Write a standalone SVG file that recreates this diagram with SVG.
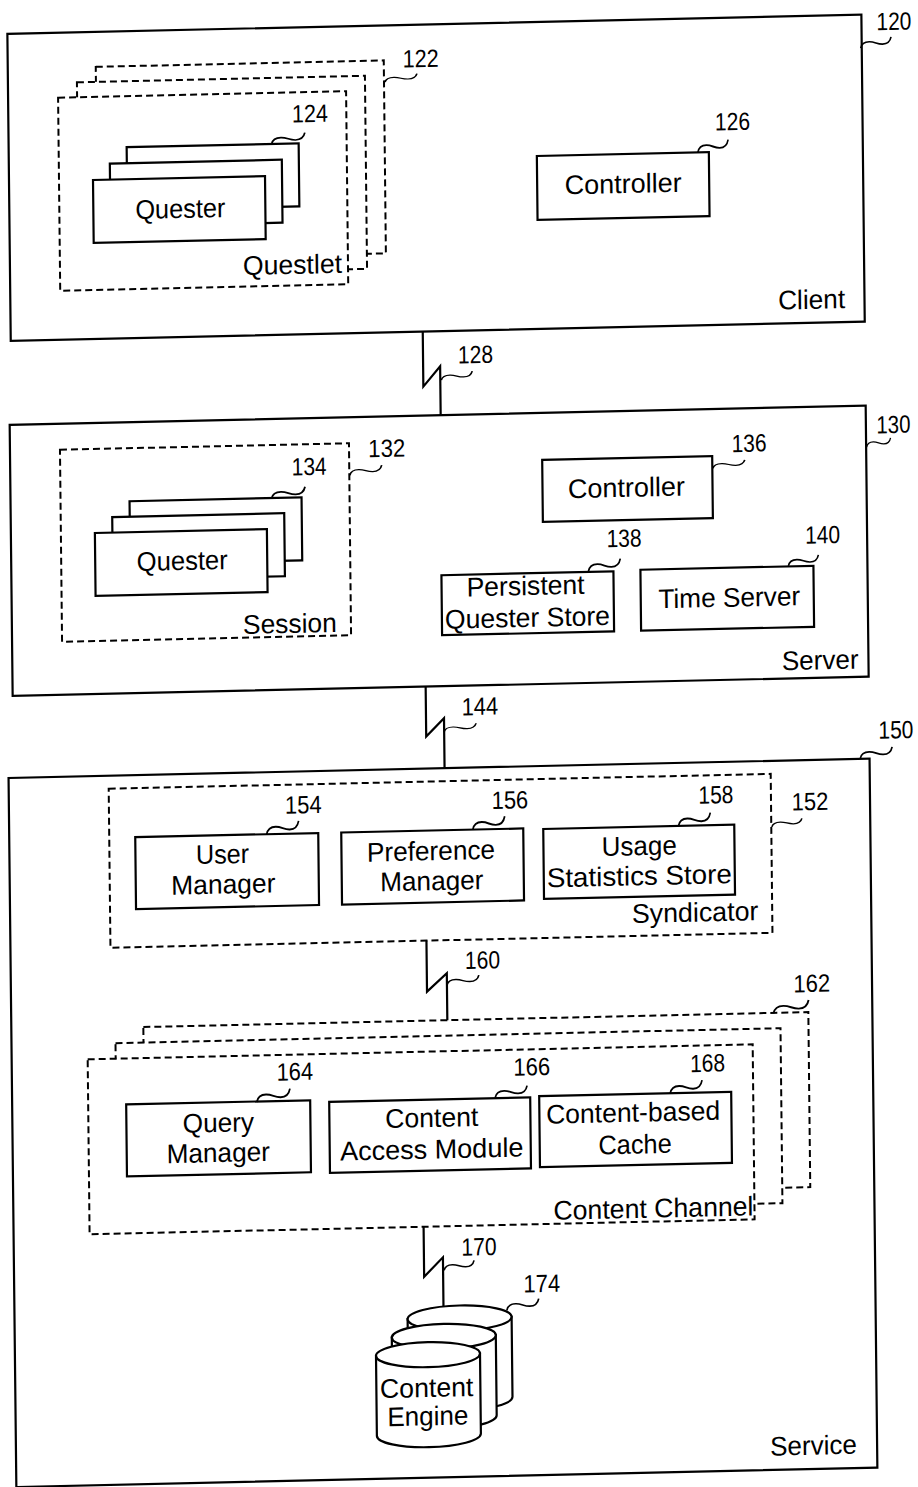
<svg xmlns="http://www.w3.org/2000/svg" width="918" height="1487" viewBox="0 0 918 1487">
<style>
.frame{fill:none;stroke:#000;stroke-width:2.2}
.box{fill:#fff;stroke:#000;stroke-width:2.2}
.dash{fill:#fff;stroke:#000;stroke-width:2;stroke-dasharray:7 4}
.cyl{fill:#fff;stroke:#000;stroke-width:2.2}
.ln{fill:none;stroke:#000;stroke-width:2.2}
.t{font-family:"Liberation Sans",Arial,sans-serif;font-size:27px;fill:#000}
.n{font-family:"Liberation Sans",Arial,sans-serif;font-size:25px;fill:#000;text-anchor:middle}
.c{text-anchor:middle}
.e{text-anchor:end}
</style>
<defs>
<path id="sq" d="M0,0 c0.96,-4.62 4,-6.38 8.96,-6.38 c6.08,0 8,2.75 14.08,2.75 c5.12,0 8,-2.75 8.96,-7.37" fill="none" stroke="#000" stroke-width="1.7"/>
</defs>
<rect x="0" y="0" width="918" height="1487" fill="#fff"/>
<g transform="matrix(1 -0.0225 0.011 1 0 0)">

<g id="client">
<rect class="frame" x="7" y="34" width="854" height="307"/>
<text class="t e" x="841.6" y="327" textLength="67" lengthAdjust="spacingAndGlyphs">Client</text>
<text class="n" x="893.5" y="50" textLength="35" lengthAdjust="spacingAndGlyphs">120</text>
<use href="#sq" transform="translate(860,67.4) scale(0.95,0.95)"/>
</g>

<g id="questlet">
<rect class="dash" x="95" y="69" width="288" height="193"/>
<rect class="dash" x="76" y="84" width="288" height="193"/>
<rect class="dash" x="57" y="99" width="288" height="193"/>
<text class="t" x="240" y="280.5" textLength="99" lengthAdjust="spacingAndGlyphs">Questlet</text>
<text class="n" x="420" y="76.5" textLength="36" lengthAdjust="spacingAndGlyphs">122</text>
<use href="#sq" transform="translate(384,90.7) scale(1,0.7)"/>
</g>

<g id="quester-client">
<rect class="box" x="125" y="150" width="172" height="63"/>
<rect class="box" x="108" y="166" width="172" height="63"/>
<rect class="box" x="91" y="182" width="172" height="63"/>
<text class="t c" x="178" y="222" textLength="90" lengthAdjust="spacingAndGlyphs">Quester</text>
<text class="n" x="308.7" y="129" textLength="36" lengthAdjust="spacingAndGlyphs">124</text>
<use href="#sq" transform="translate(270,150) scale(1.04,0.95)"/>
</g>

<g id="controller-client">
<rect class="box" x="535" y="168" width="172" height="64"/>
<text class="t c" x="621" y="207" textLength="117" lengthAdjust="spacingAndGlyphs">Controller</text>
<text class="n" x="731" y="146.5" textLength="35" lengthAdjust="spacingAndGlyphs">126</text>
<use href="#sq" transform="translate(696,168) scale(0.95,1.1)"/>
</g>

<g id="server">
<rect class="frame" x="5" y="425" width="856" height="271"/>
<text class="t e" x="851" y="687.6" textLength="76.6" lengthAdjust="spacingAndGlyphs">Server</text>
<text class="n" x="888.5" y="453" textLength="34" lengthAdjust="spacingAndGlyphs">130</text>
<use href="#sq" transform="translate(861.5,466.5) scale(0.75,0.8)"/>
</g>

<g id="session">
<rect class="dash" x="55" y="451" width="289" height="192"/>
<text class="t e" x="329.8" y="639.3" textLength="93.7" lengthAdjust="spacingAndGlyphs">Session</text>
<text class="n" x="381.7" y="465.4" textLength="37" lengthAdjust="spacingAndGlyphs">132</text>
<use href="#sq" transform="translate(344.5,483) scale(1,0.85)"/>
</g>

<g id="quester-server">
<rect class="box" x="124" y="504" width="172" height="63"/>
<rect class="box" x="106.5" y="519.5" width="172" height="63"/>
<rect class="box" x="89" y="535" width="172" height="63"/>
<text class="t c" x="176" y="574" textLength="91" lengthAdjust="spacingAndGlyphs">Quester</text>
<text class="n" x="304" y="482" textLength="35" lengthAdjust="spacingAndGlyphs">134</text>
<use href="#sq" transform="translate(266,504.5) scale(1.05,1)"/>
</g>

<g id="controller-server">
<rect class="box" x="537" y="472" width="170" height="62"/>
<text class="t c" x="621" y="510.8" textLength="117" lengthAdjust="spacingAndGlyphs">Controller</text>
<text class="n" x="744" y="468.5" textLength="35" lengthAdjust="spacingAndGlyphs">136</text>
<use href="#sq" transform="translate(707.5,484.3) scale(1,0.7)"/>
</g>

<g id="persistent-store">
<rect class="box" x="435" y="585" width="172" height="60"/>
<text class="t c" x="519" y="606.8" textLength="118" lengthAdjust="spacingAndGlyphs">Persistent</text>
<text class="t c" x="520.6" y="638.6" textLength="165" lengthAdjust="spacingAndGlyphs">Quester Store</text>
<text class="n" x="618" y="560.7" textLength="35" lengthAdjust="spacingAndGlyphs">138</text>
<use href="#sq" transform="translate(582,584.5) scale(1,1.1)"/>
</g>

<g id="time-server">
<rect class="box" x="634" y="584" width="173" height="61"/>
<text class="t c" x="722.5" y="623" textLength="141.7" lengthAdjust="spacingAndGlyphs">Time Server</text>
<text class="n" x="816.5" y="561.8" textLength="35" lengthAdjust="spacingAndGlyphs">140</text>
<use href="#sq" transform="translate(782,583.5) scale(0.94,0.95)"/>
</g>

<g id="service">
<rect class="frame" x="0" y="778" width="861" height="709"/>
<text class="t e" x="840.7" y="1472.6" textLength="86.7" lengthAdjust="spacingAndGlyphs">Service</text>
<text class="n" x="887.7" y="758.4" textLength="35" lengthAdjust="spacingAndGlyphs">150</text>
<use href="#sq" transform="translate(851.7,777.7) scale(1,1)"/>
</g>

<g id="syndicator">
<rect class="dash" x="100" y="791" width="662" height="159"/>
<text class="t e" x="748.2" y="937" textLength="126.6" lengthAdjust="spacingAndGlyphs">Syndicator</text>
<text class="n" x="801" y="828.2" textLength="36.6" lengthAdjust="spacingAndGlyphs">152</text>
<use href="#sq" transform="translate(762.6,844) scale(0.94,0.71)"/>
</g>

<g id="user-manager">
<rect class="box" x="126" y="840" width="183" height="72"/>
<text class="t c" x="213" y="868.3" textLength="53.3" lengthAdjust="spacingAndGlyphs">User</text>
<text class="t c" x="213.5" y="898.3" textLength="104.3" lengthAdjust="spacingAndGlyphs">Manager</text>
<text class="n" x="294.4" y="820" textLength="36.7" lengthAdjust="spacingAndGlyphs">154</text>
<use href="#sq" transform="translate(257.5,840) scale(1,1.15)"/>
</g>

<g id="preference-manager">
<rect class="box" x="332" y="840" width="182" height="72"/>
<text class="t c" x="421.5" y="869.7" textLength="128.3" lengthAdjust="spacingAndGlyphs">Preference</text>
<text class="t c" x="422" y="899.7" textLength="103.3" lengthAdjust="spacingAndGlyphs">Manager</text>
<text class="n" x="501" y="819.8" textLength="36.6" lengthAdjust="spacingAndGlyphs">156</text>
<use href="#sq" transform="translate(463.6,840) scale(1,1.15)"/>
</g>

<g id="usage-statistics-store">
<rect class="box" x="534" y="841" width="191" height="70"/>
<text class="t c" x="629.8" y="869.4" textLength="75" lengthAdjust="spacingAndGlyphs">Usage</text>
<text class="t c" x="629.5" y="899.4" textLength="185" lengthAdjust="spacingAndGlyphs">Statistics Store</text>
<text class="n" x="707" y="819.3" textLength="35" lengthAdjust="spacingAndGlyphs">158</text>
<use href="#sq" transform="translate(669.2,841) scale(1,1.15)"/>
</g>

<g id="content-channel">
<rect class="dash" x="132" y="1030" width="665" height="175"/>
<rect class="dash" x="104" y="1045.5" width="665" height="175"/>
<rect class="dash" x="76" y="1061" width="665" height="175"/>
<text class="t e" x="740" y="1232" textLength="200" lengthAdjust="spacingAndGlyphs">Content Channel</text>
<text class="n" x="800.8" y="1010" textLength="36.7" lengthAdjust="spacingAndGlyphs">162</text>
<use href="#sq" transform="translate(762.2,1030.5) scale(1.1,1.14)"/>
</g>

<g id="query-manager">
<rect class="box" x="114" y="1107" width="184" height="72"/>
<text class="t c" x="206" y="1136.6" textLength="71.3" lengthAdjust="spacingAndGlyphs">Query</text>
<text class="t c" x="205.5" y="1166.6" textLength="103.3" lengthAdjust="spacingAndGlyphs">Manager</text>
<text class="n" x="283" y="1086.6" textLength="36.6" lengthAdjust="spacingAndGlyphs">164</text>
<use href="#sq" transform="translate(244.6,1107.5) scale(1.04,1.15)"/>
</g>

<g id="content-access-module">
<rect class="box" x="317" y="1109" width="201" height="71"/>
<text class="t c" x="419.3" y="1136.4" textLength="93.3" lengthAdjust="spacingAndGlyphs">Content</text>
<text class="t c" x="419" y="1168" textLength="183.3" lengthAdjust="spacingAndGlyphs">Access Module</text>
<text class="n" x="519.9" y="1087" textLength="36.7" lengthAdjust="spacingAndGlyphs">166</text>
<use href="#sq" transform="translate(483,1108.5) scale(1,1.03)"/>
</g>

<g id="content-based-cache">
<rect class="box" x="527" y="1108" width="192" height="71"/>
<text class="t c" x="620.7" y="1135.7" textLength="174" lengthAdjust="spacingAndGlyphs">Content-based</text>
<text class="t c" x="622.3" y="1167.6" textLength="73.4" lengthAdjust="spacingAndGlyphs">Cache</text>
<text class="n" x="695.7" y="1087.4" textLength="35" lengthAdjust="spacingAndGlyphs">168</text>
<use href="#sq" transform="translate(658,1108.3) scale(1,1.15)"/>
</g>

<g id="content-engine">
<path class="cyl" d="M393,1328 V1408 A52,12.5 0 0 0 497,1408 V1328 Z"/>
<ellipse class="cyl" cx="445" cy="1328" rx="52" ry="12.5"/>
<path class="cyl" d="M377,1346 V1426 A52,12.5 0 0 0 481,1426 V1346 Z"/>
<ellipse class="cyl" cx="429" cy="1346" rx="52" ry="12.5"/>
<path class="cyl" d="M361,1364 V1444 A52,12.5 0 0 0 465,1444 V1364 Z"/>
<ellipse class="cyl" cx="413" cy="1364" rx="52" ry="12.5"/>
<text class="t c" x="411.3" y="1406.3" textLength="93.3" lengthAdjust="spacingAndGlyphs">Content</text>
<text class="t c" x="412.1" y="1434.6" textLength="81" lengthAdjust="spacingAndGlyphs">Engine</text>
<text class="n" x="527.5" y="1303.9" textLength="36.7" lengthAdjust="spacingAndGlyphs">174</text>
<use href="#sq" transform="translate(492.3,1321.4) scale(1,1)"/>
</g>

<g id="connectors">
<path class="ln" d="M419,341 V396 L436,376 V425"/>
<text class="n" x="471.5" y="373.7" textLength="35" lengthAdjust="spacingAndGlyphs">128</text>
<use href="#sq" transform="translate(437,390) scale(0.97,0.76)"/>
<path class="ln" d="M418,696 V746 L436,728 V778"/>
<text class="n" x="472" y="725.6" textLength="36.7" lengthAdjust="spacingAndGlyphs">144</text>
<use href="#sq" transform="translate(436,741.5) scale(1,0.7)"/>
<path class="ln" d="M416,950 V1001 L436,983 V1030"/>
<text class="n" x="471.8" y="979.2" textLength="35" lengthAdjust="spacingAndGlyphs">160</text>
<use href="#sq" transform="translate(436,995) scale(1,0.85)"/>
<path class="ln" d="M410,1236 V1286 L429,1267 V1316"/>
<text class="n" x="465.2" y="1265.8" textLength="35" lengthAdjust="spacingAndGlyphs">170</text>
<use href="#sq" transform="translate(430,1280) scale(0.94,0.85)"/>
</g>

</g>
</svg>
